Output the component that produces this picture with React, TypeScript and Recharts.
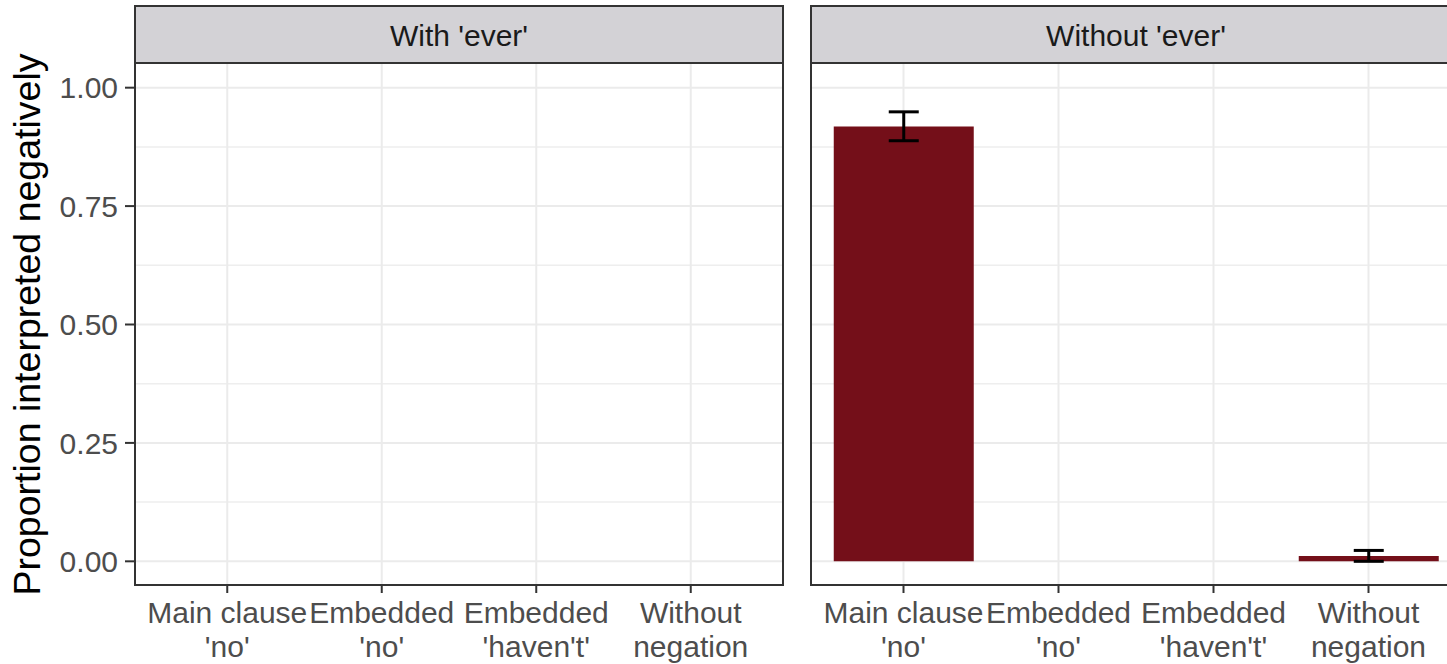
import React from 'react';
import { BarChart, Bar, XAxis, YAxis, CartesianGrid, ErrorBar } from 'recharts';

const categoryLine1 = ['Main clause', 'Embedded', 'Embedded', 'Without'];
const categoryLine2 = ["'no'", "'no'", "'haven't'", 'negation'];
const panelTitles = ["With 'ever'", "Without 'ever'"];

const withEverValues = [0, 0, 0, 0];
const withEverErrLow: (number | null)[] = [null, null, null, null];
const withEverErrHigh: (number | null)[] = [null, null, null, null];

const withoutEverValues = [0.918, 0, 0, 0.011];
const withoutEverErrLow: (number | null)[] = [0.03, null, null, 0.011];
const withoutEverErrHigh: (number | null)[] = [0.031, null, null, 0.012];

const yMajorTicks = [0, 0.25, 0.5, 0.75, 1];
const yMinorTicks = [0.125, 0.375, 0.625, 0.875];
const yDomain: [number, number] = [-0.05, 1.05];
const yTitle = 'Proportion interpreted negatively';

const FONT = '"Liberation Sans", Arial, Helvetica, sans-serif';
const BAR_COLOR = '#740F19';

function buildData(values: number[], lo: (number | null)[], hi: (number | null)[]) {
  return values.map((v, i) => ({
    cat: categoryLine1[i] + ' ' + categoryLine2[i],
    value: v,
    err: lo[i] != null && hi[i] != null ? [lo[i], hi[i]] : undefined,
  }));
}

const leftData = buildData(withEverValues, withEverErrLow, withEverErrHigh);
const rightData = buildData(withoutEverValues, withoutEverErrLow, withoutEverErrHigh);

const XTick = (props: any) => {
  const { x, y, index } = props;
  return (
    <text x={x} y={y} textAnchor="middle" fill="#4d4d4d" fontSize={30} fontFamily={FONT}>
      <tspan x={x} dy={28}>{categoryLine1[index]}</tspan>
      <tspan x={x} dy={34}>{categoryLine2[index]}</tspan>
    </text>
  );
};

const YTitle = (props: any) => {
  const vb = props.viewBox || { x: 0, y: 64, width: 135, height: 521 };
  const cx = vb.x + 40;
  const cy = vb.y + vb.height / 2;
  return (
    <text
      x={cx}
      y={cy}
      transform={`rotate(-90, ${cx}, ${cy})`}
      textAnchor="middle"
      fill="#000"
      fontSize={37.5}
      fontFamily={FONT}
    >
      {yTitle}
    </text>
  );
};

function Panel({ data, showY, width }: { data: any[]; showY: boolean; width: number }) {
  return (
    <BarChart
      width={width}
      height={664}
      data={data}
      margin={{ top: 64, right: 0, bottom: 0, left: 0 }}
      barCategoryGap="5%"
    >
      <CartesianGrid
        horizontalValues={yMinorTicks}
        vertical={false}
        stroke="#eeeeee"
        strokeWidth={1.5}
      />
      <CartesianGrid
        horizontalValues={yMajorTicks}
        vertical={true}
        stroke="#ebebeb"
        strokeWidth={2}
      />
      <XAxis
        dataKey="cat"
        interval={0}
        height={79}
        padding={{ left: 15, right: 15 }}
        axisLine={false}
        tickLine={{ stroke: '#333333', strokeWidth: 2 }}
        tickSize={8}
        tickMargin={2}
        tick={<XTick />}
      />
      <YAxis
        hide={!showY}
        width={135}
        domain={yDomain}
        ticks={yMajorTicks}
        type="number"
        allowDataOverflow
        axisLine={false}
        tickLine={{ stroke: '#333333', strokeWidth: 2 }}
        tickSize={10}
        tickMargin={7}
        tickFormatter={(v: number) => v.toFixed(2)}
        tick={{ fill: '#4d4d4d', fontSize: 30, fontFamily: FONT }}
        label={showY ? { content: <YTitle /> } : undefined}
      />
      <Bar dataKey="value" fill={BAR_COLOR} isAnimationActive={false}>
        <ErrorBar dataKey="err" direction="y" width={15} stroke="#000" strokeWidth={3} />
      </Bar>
    </BarChart>
  );
}

const stripStyle: React.CSSProperties = {
  position: 'absolute',
  top: 5,
  height: 59,
  boxSizing: 'border-box',
  background: '#d3d2d6',
  border: '2px solid #333333',
  display: 'flex',
  alignItems: 'center',
  justifyContent: 'center',
  fontFamily: FONT,
  fontSize: 30,
  color: '#1a1a1a',
  paddingTop: 2,
};

const borderStyle: React.CSSProperties = {
  position: 'absolute',
  top: 62,
  height: 524,
  boxSizing: 'border-box',
  border: '2px solid #333333',
  pointerEvents: 'none',
};

export default function App() {
  return (
    <div
      style={{
        position: 'absolute',
        left: 0,
        top: 0,
        width: 1447,
        height: 664,
        overflow: 'hidden',
        background: '#ffffff',
        fontFamily: FONT,
      }}
    >
      <div style={{ position: 'absolute', left: 0, top: 0 }}>
        <Panel data={leftData} showY={true} width={783} />
      </div>
      <div style={{ position: 'absolute', left: 811, top: 0 }}>
        <Panel data={rightData} showY={false} width={650} />
      </div>
      <div style={{ ...borderStyle, left: 134, width: 650 }} />
      <div style={{ ...borderStyle, left: 810, width: 652 }} />
      <div style={{ ...stripStyle, left: 134, width: 650 }}>{panelTitles[0]}</div>
      <div style={{ ...stripStyle, left: 810, width: 652 }}>{panelTitles[1]}</div>
    </div>
  );
}
